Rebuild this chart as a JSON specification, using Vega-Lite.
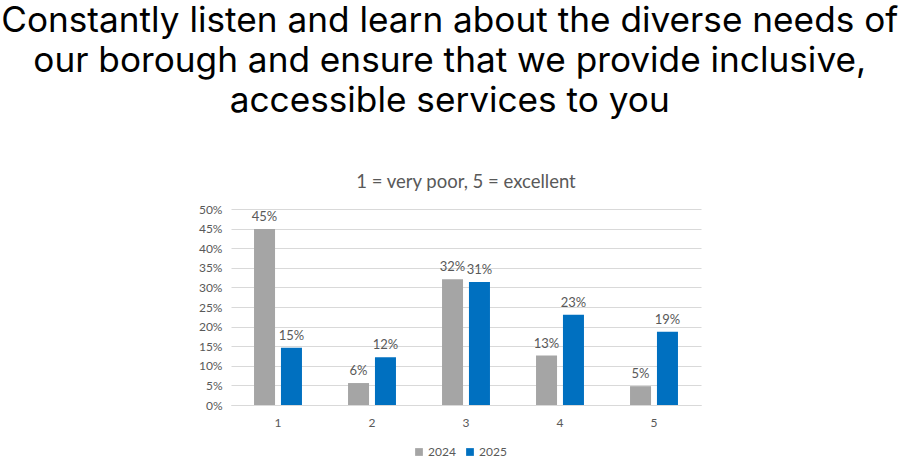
{
  "$schema": "https://vega.github.io/schema/vega-lite/v6.json",
  "padding": {"top": 4, "left": 1, "right": 2, "bottom": 0},
  "background": "white",
  "title": {
    "text": [
      "Constantly listen and learn about the diverse needs of",
      "our borough and ensure that we provide inclusive,",
      "accessible services to you"
    ],
    "font": "Inter",
    "fontSize": 35.2,
    "fontWeight": "normal",
    "color": "#000000",
    "lineHeight": 40,
    "anchor": "middle",
    "frame": "bounds",
    "offset": 53
  },
  "vconcat": [
    {
      "title": {
        "text": "1 = very poor, 5 = excellent",
        "font": "Lato",
        "fontSize": 18.5,
        "fontWeight": "normal",
        "color": "#595959",
        "anchor": "middle",
        "frame": "group",
        "offset": 12
      },
      "width": 470,
      "height": 196,
      "data": {
        "values": [
          {"rating": "1", "year": "2024", "share": 0.449},
          {"rating": "1", "year": "2025", "share": 0.146},
          {"rating": "2", "year": "2024", "share": 0.056},
          {"rating": "2", "year": "2025", "share": 0.122},
          {"rating": "3", "year": "2024", "share": 0.321},
          {"rating": "3", "year": "2025", "share": 0.314},
          {"rating": "4", "year": "2024", "share": 0.126},
          {"rating": "4", "year": "2025", "share": 0.23},
          {"rating": "5", "year": "2024", "share": 0.048},
          {"rating": "5", "year": "2025", "share": 0.187}
        ]
      },
      "encoding": {
        "x": {
          "field": "rating",
          "type": "nominal",
          "title": null,
          "scale": {"paddingInner": 0.49, "paddingOuter": 0.245},
          "axis": {
            "labelAngle": 0,
            "ticks": false,
            "domainColor": "#D9D9D9",
            "labelPadding": 12
          }
        },
        "xOffset": {
          "field": "year",
          "type": "nominal",
          "scale": {"paddingInner": 0.22, "paddingOuter": 0}
        },
        "y": {
          "field": "share",
          "type": "quantitative",
          "title": null,
          "scale": {"domain": [0, 0.5]},
          "axis": {
            "values": [0, 0.05, 0.1, 0.15, 0.2, 0.25, 0.3, 0.35, 0.4, 0.45, 0.5],
            "format": ".0%",
            "domain": false,
            "ticks": false,
            "gridColor": "#D9D9D9",
            "labelPadding": 9
          }
        },
        "color": {
          "field": "year",
          "type": "nominal",
          "title": null,
          "scale": {"domain": ["2024", "2025"], "range": ["#A5A5A5", "#0070C0"]},
          "legend": {
            "orient": "none",
            "legendX": 182,
            "legendY": 237,
            "direction": "horizontal",
            "symbolType": "square",
            "symbolSize": 60,
            "symbolStrokeWidth": 0,
            "columnPadding": 8,
            "labelOffset": 3
          }
        }
      },
      "layer": [
        {"mark": {"type": "bar"}},
        {
          "mark": {"type": "text", "baseline": "bottom", "dy": -5, "font": "Lato", "fontSize": 13, "color": "#595959"},
          "encoding": {
            "text": {"field": "share", "type": "quantitative", "format": ".0%"},
            "color": {"value": "#595959"}
          }
        }
      ]
    }
  ],
  "config": {
    "view": {"stroke": null},
    "axis": {
      "labelFont": "Lato",
      "labelFontSize": 12,
      "labelColor": "#595959"
    },
    "legend": {
      "labelFont": "Lato",
      "labelFontSize": 12,
      "labelColor": "#595959"
    }
  }
}
